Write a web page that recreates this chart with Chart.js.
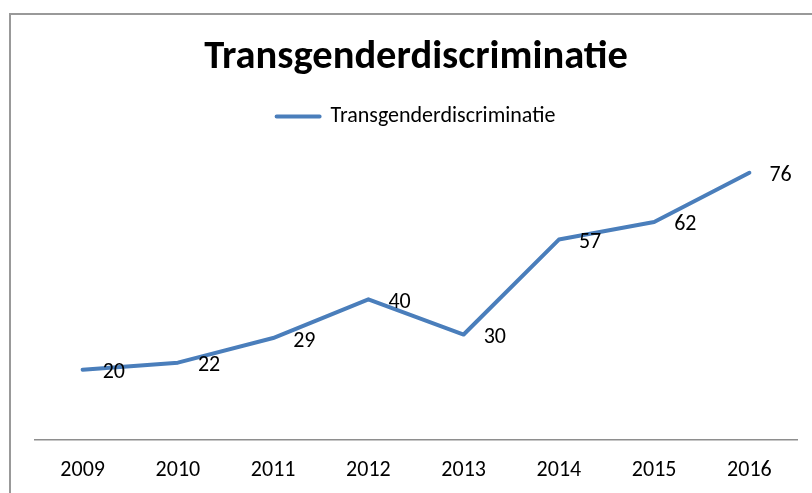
<!DOCTYPE html>
<html>
<head>
<meta charset="utf-8">
<script src="https://cdn.jsdelivr.net/npm/chart.js@4.4.1/dist/chart.umd.min.js"></script>
<style>
  html, body { margin: 0; padding: 0; background: #fff; overflow: hidden; }
  #wrap { position: relative; width: 834px; height: 493px; }
  #frame { position: absolute; left: 9px; top: 13px; width: 900px; height: 600px; border: 2px solid #999; }
  #chart { position: absolute; left: 0; top: 0; }
</style>
</head>
<body>
<div id="wrap">
  <div id="frame"></div>
  <canvas id="chart" width="834" height="493"></canvas>
</div>
<script>
const years = ['2009', '2010', '2011', '2012', '2013', '2014', '2015', '2016'];
const cases = [20, 22, 29, 40, 30, 57, 62, 76];
const seriesName = 'Transgenderdiscriminatie';
const chartTitle = 'Transgenderdiscriminatie';

const FONT = 'Carlito, Lato, sans-serif';

// draws the value next to each point, like the Excel data labels
const valueLabels = {
    id: 'valueLabels',
    afterDatasetsDraw(chart) {
        const ctx = chart.ctx;
        const meta = chart.getDatasetMeta(0);
        ctx.save();
        ctx.font = '22px ' + FONT;
        ctx.fillStyle = '#000';
        ctx.textAlign = 'left';
        ctx.textBaseline = 'middle';
        meta.data.forEach((pt, i) => {
            ctx.fillText(String(cases[i]), pt.x + 20, pt.y + 3);
        });
        ctx.restore();
    }
};

const ctx = document.getElementById('chart').getContext('2d');
const chart = new Chart(ctx, {
    type: 'line',
    data: {
        labels: years,
        datasets: [{
            label: seriesName,
            data: cases,
            borderColor: '#4A7EBB',
            backgroundColor: '#4A7EBB',
            borderWidth: 4,
            borderCapStyle: 'round',
            borderJoinStyle: 'round',
            pointRadius: 0,
            tension: 0,
        }],
    },
    options: {
        responsive: false,
        animation: false,
        layout: {
            padding: { left: 35, right: 37, top: 0, bottom: 0 }
        },
        plugins: {
            title: {
                display: true,
                text: chartTitle,
                color: '#000',
                font: { family: FONT, size: 40.5, weight: 'bold' },
                padding: { top: 34, bottom: 13 },
            },
            legend: {
                display: true,
                labels: {
                    color: '#000',
                    font: { family: FONT, size: 22 },
                    boxWidth: 43,
                    boxHeight: 0,
                    padding: 10,
                },
            },
            tooltip: { enabled: false },
        },
        scales: {
            x: {
                offset: true,
                grid: { display: false, drawTicks: false },
                border: { display: true, color: '#8e8e8e', width: 1.5 },
                ticks: {
                    color: '#000',
                    font: { family: FONT, size: 22 },
                    padding: 17,
                    maxRotation: 0,
                },
                afterFit(scale) { scale.height = 53; },
            },
            y: {
                display: false,
                min: 0,
                max: 86,
            },
        },
    },
    plugins: [valueLabels],
});
</script>
</body>
</html>
